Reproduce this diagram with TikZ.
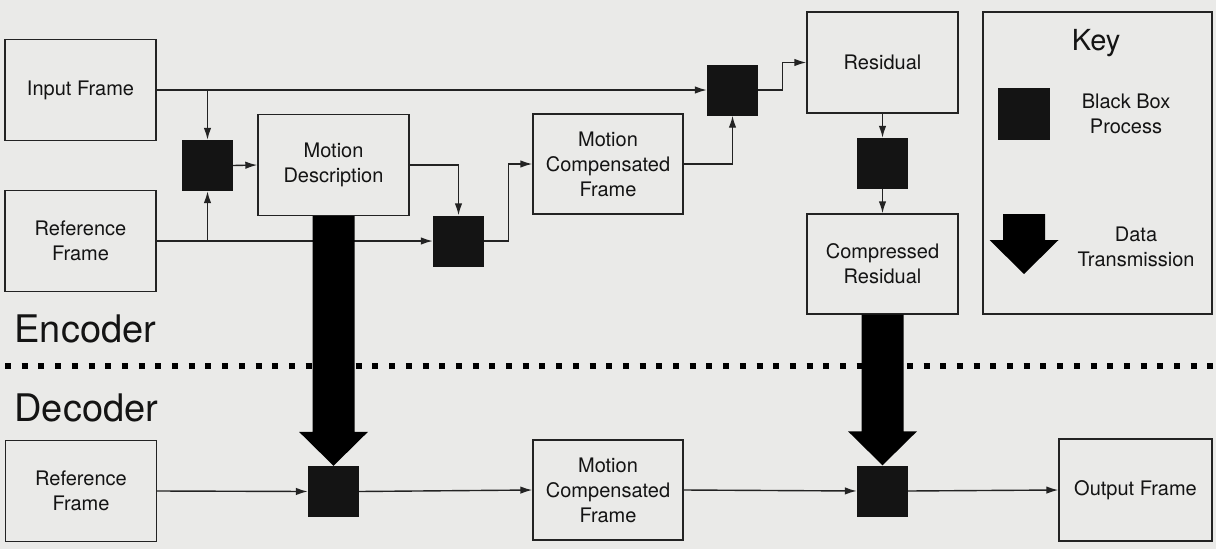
\documentclass[tikz,border=0pt]{standalone}
\usepackage{fontspec}
\setmainfont{TeX Gyre Heros}
\usetikzlibrary{arrows.meta,calc}
\definecolor{paper}{RGB}{234,234,232}
\definecolor{ink}{RGB}{35,35,35}
\definecolor{solid}{RGB}{20,20,20}
\tikzset{
  stage/.style={draw=ink, line width=1.4pt, minimum width=151pt, minimum height=101pt,
    inner sep=0pt, align=center, text=solid, font=\fontsize{20}{25}\selectfont},
  proc/.style={fill=solid, minimum size=51pt, inner sep=0pt},
  flow/.style={draw=ink, line width=1.4pt, -{Latex[length=12pt,width=7.5pt]}},
  label/.style={align=center, text=solid, font=\fontsize{20}{25}\selectfont},
  side/.style={anchor=base west, text=solid, font=\fontsize{38}{38}\selectfont},
}
% thick data transmission arrow, tail at #1, tip at #2
\newcommand\dataflow[2]{%
  \fill[solid] ($(#1)+(-21,0)$) -- ($(#2)+(-21,-34)$) -- ($(#2)+(-34.5,-34)$) -- (#2)
    -- ($(#2)+(34.5,-34)$) -- ($(#2)+(21,-34)$) -- ($(#1)+(21,0)$) -- cycle;}
\begin{document}
\begin{tikzpicture}[x=1pt, y=-1pt]
  \fill[paper] (0,0) rectangle (1216,549);
  \useasboundingbox (0,0) rectangle (1216,549);

  % encoder
  \node[stage] (inf) at (80.5,90) {Input Frame};
  \node[stage] (refe) at (80.5,241) {Reference\\Frame};
  \node[proc] (b1) at (207.5,165.5) {};
  \node[stage] (md) at (333.5,165) {Motion\\Description};
  \node[proc] (b2) at (458.5,241) {};
  \node[stage, minimum width=150pt, minimum height=100pt] (mcf) at (608,164) {Motion\\Compensated\\Frame};
  \node[proc] (b3) at (732.5,90) {};
  \node[stage] (res) at (882.5,62.5) {Residual};
  \node[proc] (b4) at (882.5,163.5) {};
  \node[stage, minimum height=100pt] (cr) at (882.5,264) {Compressed\\Residual};

  \coordinate (tapin) at (207.5,90);
  \coordinate (tapref) at (207.5,241);
  \draw[flow] (inf.east) -- (b3.west);
  \draw[flow] (tapin) -- (b1.north);
  \draw[flow] (refe.east) -- (b2.west);
  \draw[flow] (tapref) -- (b1.south);
  \draw[flow] (b1.east) -- (md.west);
  \draw[flow] (md.east) -| (b2.north);
  \draw[flow] (b2.east) -- ++(24,0) |- (mcf.west);
  \draw[flow] (mcf.east) -| (b3.south);
  \draw[flow] (b3.east) -- ++(24,0) |- (res.west);
  \draw[flow] (res.south) -- (b4.north);
  \draw[flow] (b4.south) -- (cr.north);

  % key
  \node[draw=ink, line width=2pt, minimum width=229pt, minimum height=302pt, inner sep=0pt] (key) at (1097.5,163) {};
  \node[text=solid, font=\fontsize{29}{29}\selectfont] (keyt) at (1096,43) {Key};
  \node[proc, minimum size=52pt] (keyb) at (1024,113.5) {};
  \node[label] (keybl) at (1126,114) {Black Box\\Process};
  \coordinate (keytail) at (1024,214);
  \coordinate (keytip) at (1024,274);
  \node[label] (keyal) at (1136,247) {Data\\Transmission};

  % encoder / decoder split
  \node[side] (enc) at (11,342) {Encoder};
  \node[side] (dec) at (11,421) {Decoder};
  \draw[solid, line width=6pt, dash pattern=on 6pt off 10.7pt] (5,366) -- (1216,366);

  % decoder
  \node[stage] (refd) at (81,491) {Reference\\Frame};
  \node[proc] (b5) at (333.5,491.5) {};
  \node[stage, minimum width=150pt, minimum height=100pt] (mcfd) at (608,490) {Motion\\Compensated\\Frame};
  \node[proc] (b6) at (882.5,491) {};
  \node[stage, minimum width=153pt, minimum height=102pt] (outf) at (1135.5,490) {Output Frame};

  \draw[flow] (refd.east) -- (b5.west);
  \draw[flow] (b5.east) -- (mcfd.west);
  \draw[flow] (mcfd.east) -- (b6.west);
  \draw[flow] (b6.east) -- (outf.west);

  % data transmission
  \dataflow{md.south}{b5.north}
  \dataflow{cr.south}{b6.north}
  \dataflow{keytail}{keytip}
\end{tikzpicture}
\end{document}
